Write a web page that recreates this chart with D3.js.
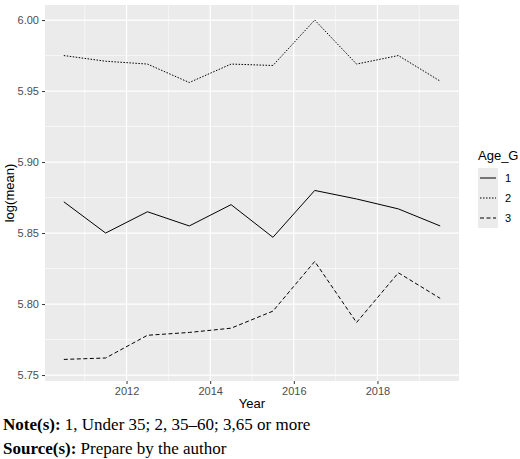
<!DOCTYPE html><html><head><script src="https://d3js.org/d3.v7.min.js"></script>
<style>body{margin:0;background:#fff}</style></head><body><svg id="c" width="520" height="459"></svg>
<script>
const years=[2010.5,2011.5,2012.5,2013.5,2014.5,2015.5,2016.5,2017.5,2018.5,2019.5];
const g1=[5.872,5.850,5.865,5.855,5.870,5.847,5.880,5.874,5.867,5.855];
const g2=[5.975,5.971,5.969,5.956,5.969,5.968,6.000,5.969,5.975,5.957];
const g3=[5.761,5.762,5.778,5.780,5.783,5.795,5.830,5.787,5.822,5.804];
const groups=["1","2","3"];
const xTicks=[2012,2014,2016,2018];
const yTicks=[5.75,5.80,5.85,5.90,5.95,6.00];
const dashes=[null,"1.5,1.5","4,2.5"];
const svg=d3.select("#c");
const L=45,R=459,T=5,B=381;
const x=d3.scaleLinear().domain([2010.05,2019.95]).range([L,R]);
const y=d3.scaleLinear().domain([5.7458,6.0106]).range([B,T]);
svg.append("rect").attr("x",L).attr("y",T).attr("width",R-L).attr("height",B-T).attr("fill","#ebebeb");
const minorX=[2011,2013,2015,2017,2019], minorY=[5.775,5.825,5.875,5.925,5.975];
minorX.forEach(v=>svg.append("line").attr("x1",x(v)).attr("x2",x(v)).attr("y1",T).attr("y2",B).attr("stroke","#fff").attr("stroke-width",0.6));
minorY.forEach(v=>svg.append("line").attr("x1",L).attr("x2",R).attr("y1",y(v)).attr("y2",y(v)).attr("stroke","#fff").attr("stroke-width",0.6));
xTicks.forEach(v=>svg.append("line").attr("x1",x(v)).attr("x2",x(v)).attr("y1",T).attr("y2",B).attr("stroke","#fff").attr("stroke-width",1.2));
yTicks.forEach(v=>svg.append("line").attr("x1",L).attr("x2",R).attr("y1",y(v)).attr("y2",y(v)).attr("stroke","#fff").attr("stroke-width",1.2));
const xa=svg.append("g").attr("transform",`translate(0,${B})`).call(d3.axisBottom(x).tickValues(xTicks).tickFormat(d3.format("d")).tickSize(3).tickPadding(3));
const ya=svg.append("g").attr("transform",`translate(${L},0)`).call(d3.axisLeft(y).tickValues(yTicks).tickFormat(d3.format(".2f")).tickSize(3).tickPadding(3));
[xa,ya].forEach(a=>{a.select(".domain").remove();a.selectAll("line").attr("stroke","#333");a.selectAll("text").attr("fill","#4d4d4d").style("font-family","Liberation Sans, Arial").style("font-size","11px");});
const line=d3.line().x((d,i)=>x(years[i])).y(d=>y(d));
[g1,g2,g3].forEach((s,i)=>svg.append("path").attr("d",line(s)).attr("fill","none").attr("stroke","#000").attr("stroke-width",1).attr("stroke-dasharray",dashes[i]));
svg.append("text").attr("x",(L+R)/2).attr("y",408).attr("text-anchor","middle").style("font-family","Liberation Sans, Arial").style("font-size","13px").text("Year");
svg.append("text").attr("transform",`translate(14,${(T+B)/2}) rotate(-90)`).attr("text-anchor","middle").style("font-family","Liberation Sans, Arial").style("font-size","13px").text("log(mean)");
svg.append("text").attr("x",478).attr("y",160).style("font-family","Liberation Sans, Arial").style("font-size","13px").text("Age_G");
groups.forEach((gname,i)=>{const yy=178+i*20;
 svg.append("rect").attr("x",478).attr("y",yy-10).attr("width",20).attr("height",20).attr("fill","#ebebeb");
 svg.append("line").attr("x1",480).attr("x2",496).attr("y1",yy).attr("y2",yy).attr("stroke","#000").attr("stroke-dasharray",dashes[i]);
 svg.append("text").attr("x",505).attr("y",yy+4).style("font-family","Liberation Sans, Arial").style("font-size","11px").text(gname);});
const ser="Liberation Serif, Times New Roman";
const n=svg.append("text").attr("x",3).attr("y",430).style("font-family",ser).style("font-size","17px");
n.append("tspan").attr("font-weight","bold").text("Note(s):");n.append("tspan").text(" 1, Under 35; 2, 35–60; 3,65 or more");
const s=svg.append("text").attr("x",3).attr("y",454).style("font-family",ser).style("font-size","17px");
s.append("tspan").attr("font-weight","bold").text("Source(s):");s.append("tspan").text(" Prepare by the author");
</script></body></html>
